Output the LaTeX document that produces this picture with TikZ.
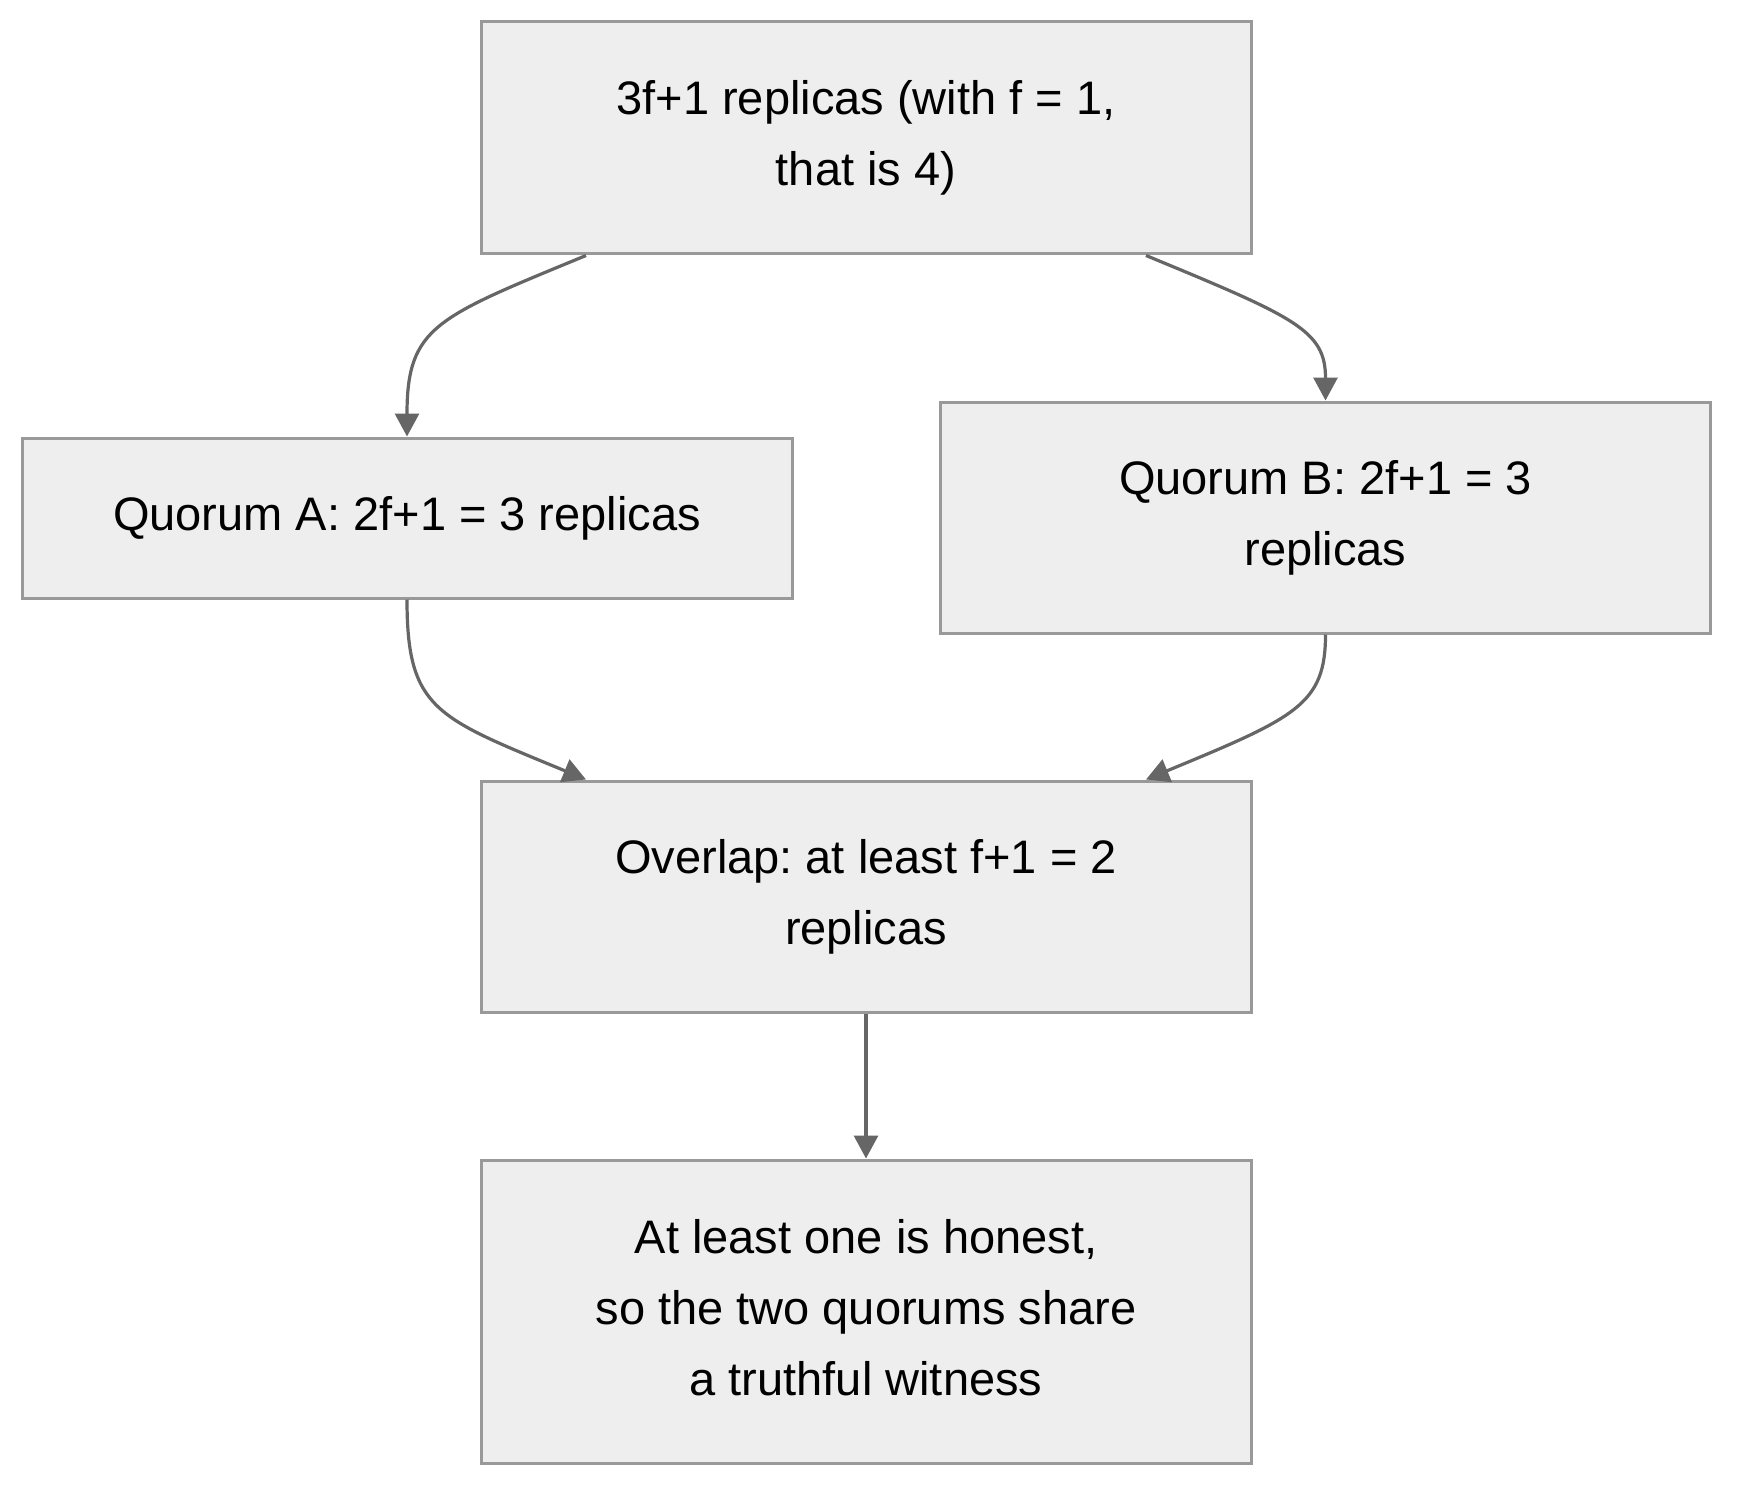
\documentclass[tikz,border=0pt]{standalone}
\usepackage{fontspec}
\setmainfont{Liberation Sans}
\usepackage{xcolor}
\usepackage{tikz}
\usetikzlibrary{calc,arrows.meta}

\definecolor{boxfill}{HTML}{EEEEEE}
\definecolor{boxline}{HTML}{999999}
\definecolor{arrowcol}{HTML}{666666}
\frenchspacing

\begin{document}
\begin{tikzpicture}[
      x=1pt, y=-1pt,
      box/.style={
            rectangle, draw=boxline, fill=boxfill,
            line width=3pt, align=center,
            minimum width=770pt, inner sep=0pt,
            font=\fontsize{47}{71}\selectfont, text=black
        },
      flow/.style={
            draw=arrowcol, line width=3.2pt,
            -{Triangle[length=23pt,width=24pt]}
        }
      ]
    \useasboundingbox (0,0) rectangle (1758,1506);

    \node[box,minimum height=232pt] (top) at (866,138) {3f+1 replicas (with f = 1,\\ that is 4)};
    \node[box,minimum height=160pt] (qa) at (407,518) {Quorum A: 2f+1 = 3 replicas};
    \node[box,minimum height=231pt] (qb) at (1325.5,517.5) {Quorum B: 2f+1 = 3\\ replicas};
    \node[box,minimum height=231pt] (over) at (866,896.5) {Overlap: at least f+1 = 2\\ replicas};
    \node[box,minimum height=303pt,text depth=8pt] (honest) at (866,1311.5) {At least one is honest,\\ so the two quorums share\\ a truthful witness};

    \draw[flow] ([xshift=-280pt]top.south) .. controls +(-150,62) and +(0,-110) .. (qa.north);
    \draw[flow] ([xshift=280pt]top.south) .. controls +(150,62) and +(0,-70) .. (qb.north);

    \draw[flow] (qa.south) .. controls +(0,110) and +(-150,-62) .. ([xshift=-280pt]over.north);
    \draw[flow] (qb.south) .. controls +(0,70) and +(150,-62) .. ([xshift=280pt]over.north);

    \draw[flow] (over) -- (honest);
  \end{tikzpicture}
\end{document}
